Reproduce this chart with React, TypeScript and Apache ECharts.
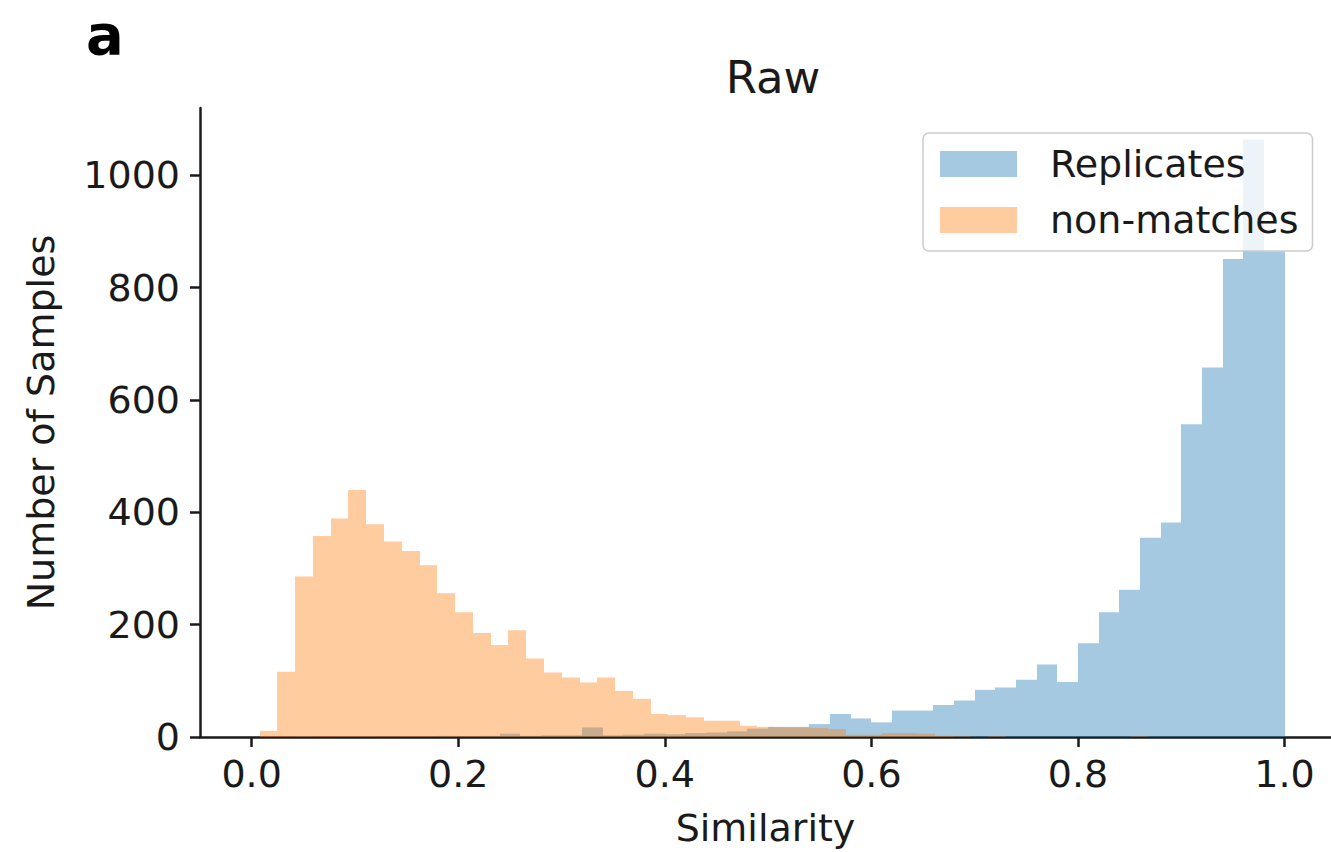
import React, { useEffect, useRef } from "react";
import * as echarts from "echarts";

// Histogram of "Replicates": 50 bins of width 0.02 starting at 0.0
const replicateBinStart = 0.0;
const replicateBinWidth = 0.02;
const replicateCounts = [
  0, 0, 1, 0, 1, 1, 0, 1, 1, 2,
  1, 2, 6, 2, 3, 3, 17, 3, 4, 6,
  5, 7, 8, 10, 15, 18, 18, 23, 41, 33,
  26, 47, 47, 57, 65, 84, 88, 102, 129, 98,
  167, 222, 262, 355, 382, 557, 658, 851, 1064, 865,
];

// Histogram of "non-matches": 50 bins of width ~0.01721 starting at ~0.0077
const nonMatchBinStart = 0.0077;
const nonMatchBinWidth = 0.01721;
const nonMatchCounts = [
  11, 116, 286, 358, 389, 440, 379, 348, 331, 306,
  256, 222, 185, 164, 190, 140, 115, 106, 97, 106,
  82, 68, 41, 39, 35, 29, 29, 20, 18, 17,
  17, 16, 14, 4, 4, 7, 7, 6, 2, 1,
  0, 1, 0, 0, 0, 0, 0, 0, 0, 1,
];

const seriesNames = ["Replicates", "non-matches"];
const xTickValues = [0, 0.2, 0.4, 0.6, 0.8, 1.0];
const yTickValues = [0, 200, 400, 600, 800, 1000];

const FONT = "'DejaVu Sans', sans-serif";
const BLUE = "rgba(31,119,180,0.4)";
const ORANGE = "rgba(255,127,14,0.4)";

function toBins(start: number, width: number, counts: number[]) {
  return counts.map((c, i) => [start + i * width, start + (i + 1) * width, c]);
}

function makeRender(fill: string) {
  return (params: any, api: any) => {
    const x0 = api.value(0);
    const x1 = api.value(1);
    const h = api.value(2);
    const p0 = api.coord([x0, 0]);
    const p1 = api.coord([x1, h]);
    const left = Math.round(p0[0]);
    const right = Math.round(p1[0]);
    return {
      type: "rect",
      shape: { x: left, y: p1[1], width: right - left, height: p0[1] - p1[1] },
      style: { fill },
    };
  };
}

export default function App() {
  const ref = useRef<HTMLDivElement>(null);
  useEffect(() => {
    if (!ref.current) return;
    const chart = echarts.init(ref.current, null, { renderer: "svg" });
    chart.setOption({
      animation: false,
      backgroundColor: "#ffffff",
      title: {
        text: "Raw",
        left: 768,
        top: 50,
        textAlign: "center",
        textStyle: { fontFamily: FONT, fontSize: 45, fontWeight: "normal", color: "#1a1a1a" },
      },
      graphic: [
        {
          type: "text",
          left: 86,
          top: 6,
          style: { text: "a", font: `bold 56px ${FONT}`, fill: "#000" },
        },
      ],
      legend: {
        orient: "vertical",
        left: 923,
        top: 133,
        itemWidth: 77,
        itemHeight: 26,
        itemGap: 18,
        icon: "rect",
        padding: [12, 14, 12, 17],
        backgroundColor: "rgba(255,255,255,0.8)",
        borderColor: "#cccccc",
        borderWidth: 1.5,
        borderRadius: 6,
        textStyle: {
          fontFamily: FONT,
          fontSize: 38,
          color: "#1a1a1a",
          padding: [0, 0, 0, 28],
        },
        data: [
          { name: seriesNames[0], itemStyle: { color: BLUE } },
          { name: seriesNames[1], itemStyle: { color: ORANGE } },
        ],
      },
      grid: { left: 200, right: 0, top: 108, bottom: 114, containLabel: false },
      xAxis: {
        type: "value",
        min: -0.05,
        max: 1.045,
        name: "Similarity",
        nameLocation: "middle",
        nameGap: 72,
        nameTextStyle: { fontFamily: FONT, fontSize: 38, color: "#1a1a1a", verticalAlign: "top" },
        axisLine: { show: true, onZero: false, lineStyle: { color: "#1a1a1a", width: 2.5 } },
        axisTick: { show: true, length: 10, customValues: xTickValues, lineStyle: { color: "#1a1a1a", width: 2.5 } },
        axisLabel: {
          customValues: xTickValues,
          formatter: (v: number) => v.toFixed(1),
          fontFamily: FONT,
          fontSize: 38,
          color: "#1a1a1a",
          margin: 18,
        },
        splitLine: { show: false },
      },
      yAxis: {
        type: "value",
        min: 0,
        max: 1120,
        name: "Number of Samples",
        nameLocation: "middle",
        nameGap: 140,
        nameTextStyle: { fontFamily: FONT, fontSize: 38, color: "#1a1a1a" },
        axisLine: { show: true, onZero: false, lineStyle: { color: "#1a1a1a", width: 2.5 } },
        axisTick: { show: true, length: 10, customValues: yTickValues, lineStyle: { color: "#1a1a1a", width: 2.5 } },
        axisLabel: {
          customValues: yTickValues,
          formatter: (v: number) => String(Math.round(v)),
          fontFamily: FONT,
          fontSize: 38,
          color: "#1a1a1a",
          margin: 20,
        },
        splitLine: { show: false },
      },
      series: [
        {
          name: seriesNames[0],
          type: "custom",
          itemStyle: { color: BLUE },
          renderItem: makeRender(BLUE),
          encode: { x: [0, 1], y: 2 },
          data: toBins(replicateBinStart, replicateBinWidth, replicateCounts),
          z: 1,
        },
        {
          name: seriesNames[1],
          type: "custom",
          itemStyle: { color: ORANGE },
          renderItem: makeRender(ORANGE),
          encode: { x: [0, 1], y: 2 },
          data: toBins(nonMatchBinStart, nonMatchBinWidth, nonMatchCounts),
          z: 2,
        },
      ],
    });
    return () => chart.dispose();
  }, []);
  return (
    <div
      ref={ref}
      style={{ position: "fixed", left: 0, top: 0, width: 1331, height: 852, background: "#fff" }}
    />
  );
}
